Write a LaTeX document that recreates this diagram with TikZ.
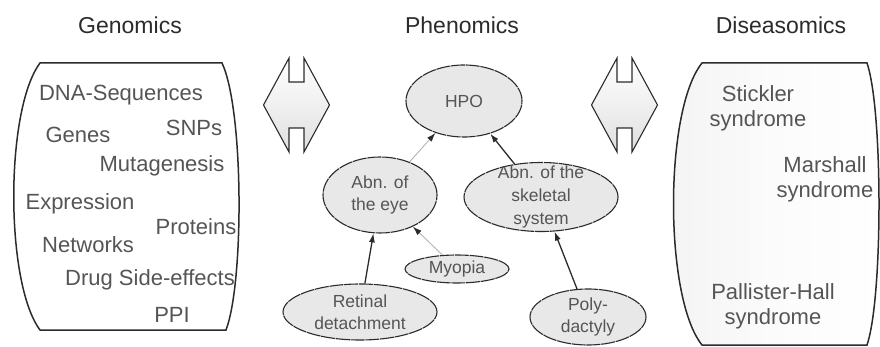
\documentclass[tikz,border=0pt]{standalone}
\usepackage{fontspec}
\setmainfont{Liberation Sans}
\usetikzlibrary{arrows.meta,shapes.geometric}
\definecolor{Ink}{HTML}{2B2B2B}
\definecolor{Label}{HTML}{555555}
\definecolor{Cloud}{HTML}{E8E8E8}
\definecolor{Wire}{HTML}{B4B4B4}
\tikzset{
  heading/.style={font=\fontsize{23}{27}\selectfont, text=Ink},
  term/.style={font=\fontsize{22}{25}\selectfont, text=Label, align=center, inner sep=0pt},
  pheno/.style={
    ellipse, draw=Ink, fill=Cloud, line width=1.1pt, dash pattern=on 14pt off 0.8pt,
    inner sep=0pt, font=\fontsize{17.5}{22}\selectfont, text=Label, align=center
  },
  phenotext/.style={font=\fontsize{17.5}{23}\selectfont, text=Label, align=center, inner sep=0pt},
  isa/.style={-{Latex[length=9pt,width=6pt]}, line width=1.3pt, draw=Ink},
  softisa/.style={-{Latex[length=9pt,width=6pt,color=Ink]}, line width=0.9pt, draw=Wire},
  omicsbox/.style={line width=1.5pt, draw=Ink},
  bridge/.pic={
    \path[draw=Ink, line width=1.1pt, top color=white, bottom color=gray!25, middle color=gray!12]
      (-7.5,-47) -- (-7.5,-23) -- (7.5,-23) -- (7.5,-47) -- (33,0) -- (7.5,47)
      -- (7.5,23) -- (-7.5,23) -- (-7.5,47) -- (-33,0) -- cycle;
  }
}

\begin{document}
\begin{tikzpicture}[x=1pt,y=-1pt]
  \useasboundingbox (0,0) rectangle (880,347);

  % the three panels
  \node[heading] (genomics) at (130,25) {Genomics};
  \node[heading] (phenomics) at (462,25) {Phenomics};
  \node[heading] (diseasomics) at (781,25) {Diseasomics};

  \draw[omicsbox, fill=white] (40,63) -- (222,63) .. controls (244,110) and (244,283) .. (226,330)
    -- (40,330) .. controls (5,283) and (5,110) .. cycle;
  \draw[omicsbox, left color=gray!9, right color=white, middle color=gray!3]
    (702,63) -- (867,63) .. controls (883,110) and (883,298) .. (867,345)
    -- (702,345) .. controls (664,298) and (664,110) .. cycle;

  \pic at (296.5,105) {bridge};
  \pic at (624.5,105) {bridge};

  % genomics terms
  \node[term] (dna) at (121,95) {DNA-Sequences};
  \node[term] (genes) at (78,135) {Genes};
  \node[term] (snps) at (194,128) {SNPs};
  \node[term] (mutagen) at (162,166) {Mutagenesis};
  \node[term] (express) at (80,204) {Expression};
  \node[term] (proteins) at (196,227) {Proteins};
  \node[term] (networks) at (88,245) {Networks};
  \node[term] (drugs) at (150,280) {Drug Side-effects};
  \node[term] (ppi) at (172,315) {PPI};

  % diseasomics terms
  \node[term] (stickler) at (758,108) {Stickler\\syndrome};
  \node[term] (marshall) at (825,179) {Marshall\\syndrome};
  \node[term] (pallister) at (773,306) {Pallister-Hall\\syndrome};

  % phenotype ontology
  \node[pheno, minimum width=116, minimum height=72] (hpo) at (464,101) {HPO};
  \node[pheno, minimum width=114, minimum height=76] (eye) at (380,195) {Abn. of\\the eye};
  \node[pheno, minimum width=154, minimum height=69] (skeleton) at (541,197) {};
  \node[phenotext] (skeletontext) at (skeleton.center) {Abn. of the\\skeletal\\system};
  \node[pheno, minimum width=104, minimum height=28] (myopia) at (457,269) {Myopia};
  \node[pheno, minimum width=154, minimum height=56] (retina) at (360,312) {Retinal\\detachment};
  \node[pheno, minimum width=116, minimum height=56] (poly) at (588,317) {Poly-\\dactyly};

  \draw[softisa] (eye) -- (hpo);
  \draw[isa] (skeleton) -- (hpo);
  \draw[isa] (retina) -- (eye);
  \draw[softisa] (myopia) -- (eye);
  \draw[isa] (poly) -- (skeleton);
\end{tikzpicture}
\end{document}
